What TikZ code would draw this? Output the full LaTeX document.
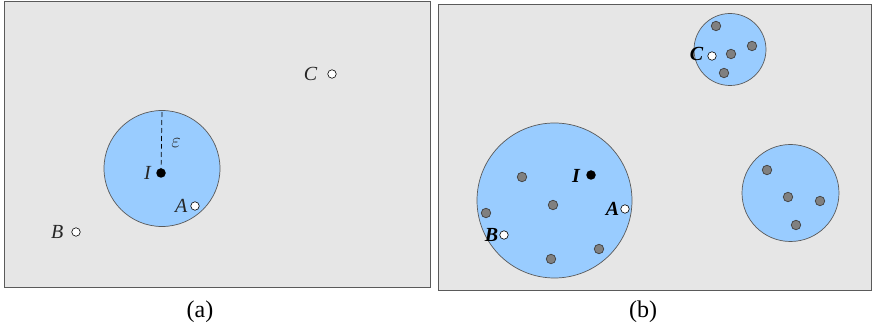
\documentclass[tikz,border=0pt]{standalone}
\usepackage{fontspec}
\setmainfont{Liberation Serif}
\usepackage{tikz}
\usetikzlibrary{positioning}
\definecolor{panelcolor}{HTML}{E6E6E6}
\definecolor{clustcolor}{HTML}{99CCFF}
\definecolor{edgecolor}{HTML}{5A5A5A}
\definecolor{membercolor}{HTML}{808080}

\begin{document}
\begin{tikzpicture}[x=1pt, y=-1pt,
    panel/.style={draw=edgecolor, fill=panelcolor, line width=0.8pt},
    clust/.style={circle, draw=edgecolor, fill=clustcolor, line width=0.7pt, inner sep=0pt, minimum size=#1},
    obj/.style={circle, draw=black, fill=white, line width=0.6pt, inner sep=0pt, minimum size=8.5pt},
    core/.style={circle, fill=black, inner sep=0pt, minimum size=9.5pt},
    member/.style={circle, draw=black!75, fill=membercolor, line width=0.7pt, inner sep=0pt, minimum size=9.5pt},
    lbl/.style={font=\fontsize{20}{24}\selectfont\itshape, text=black!85, inner sep=0pt},
    blbl/.style={font=\fontsize{20}{24}\selectfont\bfseries\itshape, inner sep=0pt},
    caption/.style={font=\fontsize{24}{28}\selectfont}
]
    \useasboundingbox (0,0) rectangle (873,328);

    % --- (a) ---
    \draw[panel] (4,1) rectangle (430,287);
    \node[clust=116pt] (ca) at (162,168.5) {};
    \node[core] (ia) at (161,173) {};
    \draw[dash pattern=on 5pt off 3pt, line width=0.7pt] (ia.center) -- (ca.north);
    \node[lbl] at (176,143) {$\varepsilon$};
    \node[lbl, left=5pt of ia] {I};
    \node[obj] (aa) at (195,206) {};
    \node[lbl, left=3pt of aa] {A};
    \node[obj] (ba) at (76,232) {};
    \node[lbl, left=8pt of ba] {B};
    \node[obj] (cc) at (332,74) {};
    \node[lbl, left=10pt of cc] {C};
    \node[caption] at (200,312) {(a)};

    % --- (b) ---
    \draw[panel] (438,4) rectangle (871,290);
    \node[clust=155pt] (cb1) at (554.5,200.5) {};
    \node[clust=72pt] (cb2) at (730,49.5) {};
    \node[clust=97pt] (cb3) at (790.5,193) {};
    % big cluster
    \node[member] (m1) at (522,177) {};
    \node[member] (m2) at (553,205) {};
    \node[member] (m3) at (486,213) {};
    \node[member] (m4) at (599,249) {};
    \node[member] (m5) at (551,259) {};
    \node[core] (ib) at (591,175) {};
    \node[blbl, left=6pt of ib, yshift=-1pt] {I};
    \node[obj] (ab) at (625,209) {};
    \node[blbl, left=1pt of ab] {A};
    \node[obj] (bb) at (504,235) {};
    \node[blbl, left=1pt of bb] {B};
    % top cluster
    \node[member] (m6) at (716,26) {};
    \node[member] (m7) at (752,46) {};
    \node[member] (m8) at (731,54) {};
    \node[member] (m9) at (724,73) {};
    \node[obj] (cb) at (712,56) {};
    \node[blbl, left=4pt of cb, yshift=2pt] {C};
    % right cluster
    \node[member] (m10) at (767,170) {};
    \node[member] (m11) at (788,197) {};
    \node[member] (m12) at (820,201) {};
    \node[member] (m13) at (796,225) {};
    \node[caption] at (643,312) {(b)};
\end{tikzpicture}
\end{document}
